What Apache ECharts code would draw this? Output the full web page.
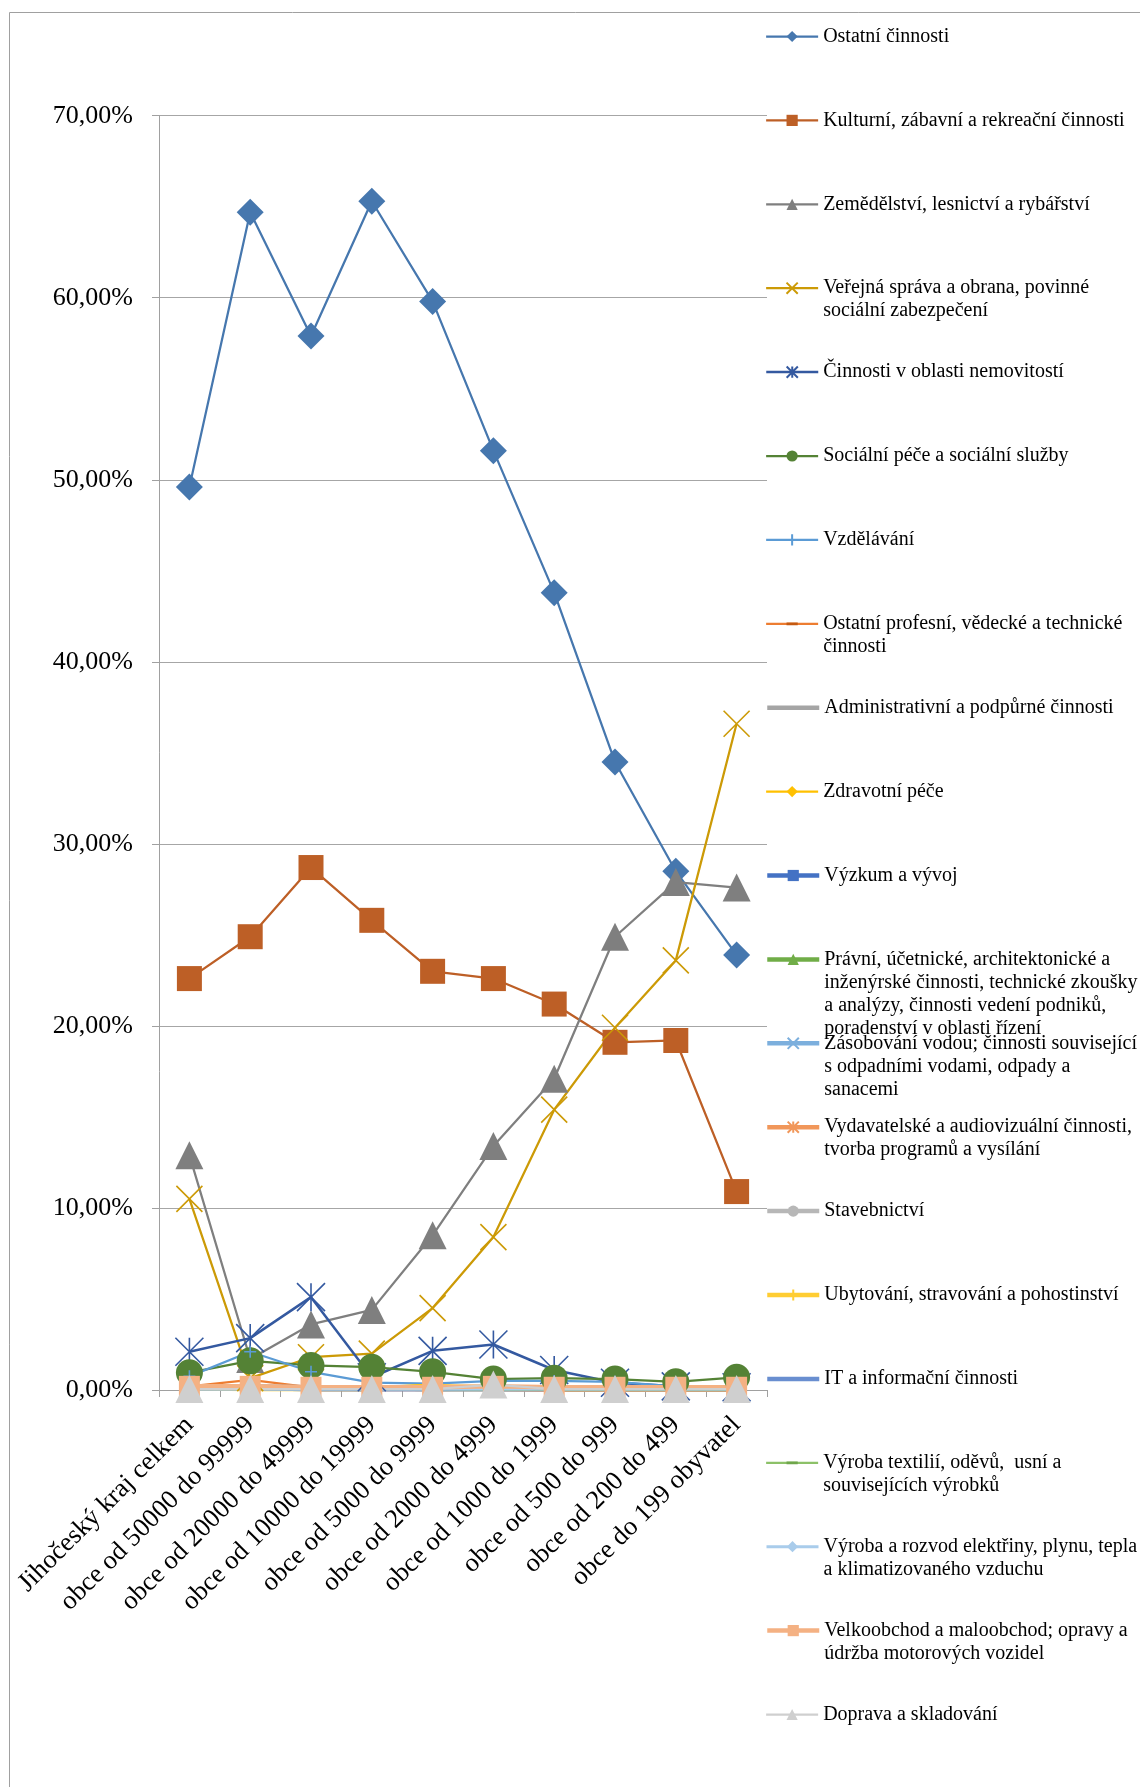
<!DOCTYPE html>
<html><head><meta charset="utf-8">
<script src="https://cdn.jsdelivr.net/npm/echarts@6/dist/echarts.min.js"></script>
<style>html,body{margin:0;padding:0;background:#fff}#c{width:1140px;height:1787px}</style>
</head><body><div id="c"></div><script>
const categories = ['Jihočeský kraj celkem','obce od 50000 do 99999','obce od 20000 do 49999','obce od 10000 do 19999','obce od 5000 do 9999','obce od 2000 do 4999','obce od 1000 do 1999','obce od 500 do 999','obce od 200 do 499','obce do 199 obyvatel'];
const seriesNames = [
  'Ostatní činnosti',
  'Kulturní, zábavní a rekreační činnosti',
  'Zemědělství, lesnictví a rybářství',
  'Veřejná správa a obrana, povinné sociální zabezpečení',
  'Činnosti v oblasti nemovitostí',
  'Sociální péče a sociální služby',
  'Vzdělávání',
  'Ostatní profesní, vědecké a technické činnosti',
  'Administrativní a podpůrné činnosti',
  'Zdravotní péče',
  'Výzkum a vývoj',
  'Právní, účetnické, architektonické a inženýrské činnosti, technické zkoušky a analýzy, činnosti vedení podniků, poradenství v oblasti řízení',
  'Zásobování vodou; činnosti související s odpadními vodami, odpady a sanacemi',
  'Vydavatelské a audiovizuální činnosti, tvorba programů a vysílání',
  'Stavebnictví',
  'Ubytování, stravování a pohostinství',
  'IT a informační činnosti',
  'Výroba textilií, oděvů,  usní a souvisejících výrobků',
  'Výroba a rozvod elektřiny, plynu, tepla a klimatizovaného vzduchu',
  'Velkoobchod a maloobchod; opravy a údržba motorových vozidel',
  'Doprava a skladování'
];
const yTicks = [0,10,20,30,40,50,60,70];

const ostatniCinnosti = [49.6, 64.7, 57.9, 65.3, 59.8, 51.6, 43.8, 34.5, 28.5, 23.9];
const kulturni        = [22.6, 24.9, 28.7, 25.8, 23.0, 22.6, 21.2, 19.1, 19.2, 10.9];
const zemedelstvi     = [12.9, 1.7, 3.6, 4.4, 8.5, 13.4, 17.1, 24.9, 27.9, 27.6];
const verejnaSprava   = [10.5, 0.65, 1.8, 2.0, 4.5, 8.4, 15.4, 19.9, 23.6, 36.6];
const nemovitosti     = [2.1, 2.85, 5.1, 0.7, 2.15, 2.5, 1.1, 0.4, 0.2, 0.15];
const socialni        = [0.95, 1.6, 1.35, 1.25, 1.0, 0.6, 0.65, 0.6, 0.45, 0.7];
const vzdelavani      = [0.75, 2.1, 1.0, 0.4, 0.35, 0.5, 0.5, 0.45, 0.2, 0.15];
const ostatniProfesni = [0.2, 0.55, 0.15, 0.1, 0.1, 0.1, 0.1, 0.05, 0.05, 0.05];
const administrativni = [0.2, 0.2, 0.15, 0.15, 0.1, 0.1, 0.1, 0.1, 0.1, 0.1];
const zdravotni       = [0.1, 0.15, 0.1, 0.15, 0.3, 0.05, 0.05, 0.05, 0.05, 0.05];
const vyzkum          = [0.1, 0.1, 0.05, 0.05, 0.05, 0.1, 0.1, 0.15, 0.15, 0.15];
const pravni          = [0.15, 0.1, 0.1, 0.1, 0.05, 0.05, 0.05, 0.05, 0.05, 0.05];
const zasobovani      = [0.1, 0.1, 0.1, 0.05, 0.1, 0.05, 0.05, 0.05, 0.05, 0.05];
const vydavatelske    = [0.1, 0.15, 0.05, 0.05, 0.05, 0.05, 0.02, 0.02, 0.02, 0.02];
const stavebnictvi    = [0.1, 0.1, 0.1, 0.1, 0.05, 0.05, 0.05, 0.05, 0.05, 0.05];
const ubytovani       = [0.1, 0.05, 0.05, 0.05, 0.2, 0.15, 0.05, 0.05, 0.05, 0.05];
const itCinnosti      = [0.1, 0.1, 0.05, 0.05, 0.05, 0.05, 0.05, 0.05, 0.05, 0.05];
const textil          = [0.05, 0.05, 0.05, 0.05, 0.05, 0.02, 0.02, 0.02, 0.02, 0.02];
const vyrobaRozvod    = [0.05, 0.05, 0.05, 0.05, 0.05, 0.05, 0.05, 0.05, 0.05, 0.05];
const velkoobchod     = [0.2, 0.2, 0.15, 0.15, 0.15, 0.2, 0.15, 0.15, 0.15, 0.15];
const doprava         = [0.05, 0.05, 0.05, 0.05, 0.05, 0.3, 0.05, 0.05, 0.05, 0.05];

const seriesValues = [ostatniCinnosti, kulturni, zemedelstvi, verejnaSprava, nemovitosti, socialni, vzdelavani, ostatniProfesni, administrativni, zdravotni, vyzkum, pravni, zasobovani, vydavatelske, stavebnictvi, ubytovani, itCinnosti, textil, vyrobaRozvod, velkoobchod, doprava];

const legendWrapped = {
  'Veřejná správa a obrana, povinné sociální zabezpečení': 'Veřejná správa a obrana, povinné\nsociální zabezpečení',
  'Ostatní profesní, vědecké a technické činnosti': 'Ostatní profesní, vědecké a technické\nčinnosti',
  'Právní, účetnické, architektonické a inženýrské činnosti, technické zkoušky a analýzy, činnosti vedení podniků, poradenství v oblasti řízení': 'Právní, účetnické, architektonické a\ninženýrské činnosti, technické zkoušky\na analýzy, činnosti vedení podniků,\nporadenství v oblasti řízení',
  'Zásobování vodou; činnosti související s odpadními vodami, odpady a sanacemi': 'Zásobování vodou; činnosti související\ns odpadními vodami, odpady a\nsanacemi',
  'Vydavatelské a audiovizuální činnosti, tvorba programů a vysílání': 'Vydavatelské a audiovizuální činnosti,\ntvorba programů a vysílání',
  'Výroba textilií, oděvů,  usní a souvisejících výrobků': 'Výroba textilií, oděvů,  usní a\nsouvisejících výrobků',
  'Výroba a rozvod elektřiny, plynu, tepla a klimatizovaného vzduchu': 'Výroba a rozvod elektřiny, plynu, tepla\na klimatizovaného vzduchu',
  'Velkoobchod a maloobchod; opravy a údržba motorových vozidel': 'Velkoobchod a maloobchod; opravy a\núdržba motorových vozidel'
};

const CROSS = 'path://M0,0L10,10M10,0L0,10';
const STAR = 'path://M0,0L10,10M10,0L0,10M5,0L5,10';
const PLUS = 'path://M5,0L5,10M0,5L10,5';
const DASH = 'path://M0,0L0.01,0L0,0.01ZM0,3.8L10,3.8L10,6.2L0,6.2ZM10,10L9.99,10L10,9.99Z';
const colors = ['#4677AE','#BD5F26','#7F7F7F','#CC9A06','#3459A0','#548235','#5B9BD5','#ED7D31','#A5A5A5','#FFC000','#4472C4','#70AD47','#7CAFDD','#F1975A','#B7B7B7','#FFCD33','#698ED0','#8CC168','#A9CCEB','#F4B183','#CFCFCF'];
const dashColors = { 7: '#C55A11', 17: '#6FA64B' };
const symbols = ['diamond','rect','triangle',CROSS,STAR,'circle',PLUS,DASH,'circle','diamond','rect','triangle',CROSS,STAR,'circle',PLUS,'circle',DASH,'diamond','rect','triangle'];
const symbolSizes = [27,25,28,26,28,27,12,10,0,8,8,8,8,8,8,8,0,10,8,21,28];
const borderW = [0,0,0,1.6,1.6,0,1.6,0,0,0,0,0,1.6,1.6,0,1.6,0,0,0,0,0];
const hideSymbol = [false,false,false,false,false,false,false,false,true,false,false,false,false,false,false,false,true,false,false,false,false];
const lineWidths = [2.25,2.25,2.25,2.25,2.5,2.25,2.25,2.25,4.5,2.25,4.5,4.5,4.5,4.5,4.5,4.5,4.5,2.25,3,4.5,2.25];

const FONT = 'Liberation Serif';
const LH = 23;

const legends = seriesNames.map((name, i) => {
  const text = legendWrapped[name] || name;
  const n = text.split('\n').length;
  const shown = '\n'.repeat(n - 1) + text;
  const c = 36.5 + i * 83.9;
  const h = (2 * n - 1) * LH;
  return {
    show: true, data: [name], left: 765, top: c - h / 2, orient: 'vertical', padding: 0,
    itemWidth: 52, itemHeight: 14, selectedMode: false,
    lineStyle: { width: 'inherit' },
    formatter: () => shown,
    textStyle: { fontFamily: FONT, fontSize: 20, lineHeight: LH, color: '#000' }
  };
});

const series = seriesNames.map((name, i) => {
  const col = dashColors[i] || colors[i];
  let itemStyle;
  if (hideSymbol[i]) itemStyle = { color: colors[i], borderWidth: 0, opacity: 0 };
  else if (borderW[i] > 0) itemStyle = { color: col, borderColor: col, borderWidth: borderW[i] };
  else itemStyle = { color: col, borderWidth: 0 };
  return {
    name, type: 'line', data: seriesValues[i],
    symbol: symbols[i], symbolSize: symbolSizes[i], symbolKeepAspect: true, showSymbol: !hideSymbol[i],
    lineStyle: { color: colors[i], width: lineWidths[i] },
    itemStyle,
    emphasis: { disabled: true },
    animation: false
  };
});

const chart = echarts.init(document.getElementById('c'), null, { renderer: 'canvas' });
chart.setOption({
  backgroundColor: '#fff',
  animation: false,
  graphic: [{ type: 'rect', shape: { x: 9.5, y: 12.5, width: 1300, height: 1900 }, style: { fill: 'none', stroke: '#A0A0A0', lineWidth: 1 }, silent: true, z: -10 }],
  grid: { left: 159, right: 373, top: 115.7, bottom: 397, containLabel: false },
  legend: legends,
  xAxis: {
    type: 'category', data: categories, boundaryGap: true,
    axisLine: { lineStyle: { color: '#A0A0A0', width: 1 } },
    axisTick: { show: true, length: 7, interval: 0, lineStyle: { color: '#A0A0A0' } },
    axisLabel: { interval: 0, rotate: 45, fontFamily: FONT, fontSize: 26.5, color: '#000', margin: 31 }
  },
  yAxis: {
    type: 'value', min: yTicks[0], max: yTicks[yTicks.length - 1], interval: 10,
    axisLine: { show: true, lineStyle: { color: '#A0A0A0', width: 1 } },
    axisTick: { show: true, length: 7, lineStyle: { color: '#A0A0A0' } },
    splitLine: { show: true, lineStyle: { color: '#A6A6A6', width: 1 } },
    axisLabel: { formatter: v => v.toFixed(2).replace('.', ',') + '%', fontFamily: FONT, fontSize: 26, color: '#000', margin: 26 }
  },
  series
});
</script></body></html>
